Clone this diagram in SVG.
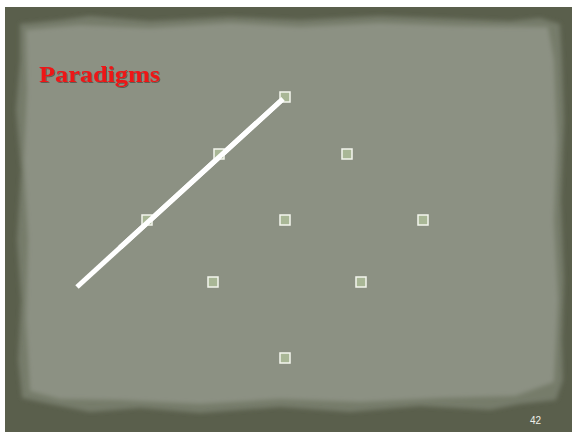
<svg xmlns="http://www.w3.org/2000/svg" width="574" height="432" viewBox="0 0 574 432">
<style>
.pt{fill:#a9b796;stroke:#f4f6ee;stroke-width:1.5}
.title{font-family:"Liberation Serif",serif;font-weight:bold;font-size:24px;fill:#ee1419}
.num{font-family:"Liberation Sans",sans-serif;font-size:10px;fill:#eef0e8}
</style>
<defs>
<filter id="blur" x="-5%" y="-5%" width="110%" height="110%"><feGaussianBlur stdDeviation="2"/></filter>
<filter id="sh"><feDropShadow dx="1" dy="1" stdDeviation="0.6" flood-color="#3a3a30" flood-opacity="0.6"/></filter>
</defs>
<rect width="574" height="432" fill="#ffffff"/>
<rect x="5" y="7" width="567" height="425" fill="#5a5f4c"/>
<path d="M20,24 L60,20 L90,16 L150,21 L230,17 L300,20 L380,16 L460,19 L510,21 L540,18 L560,24 L562,60 L564,120 L561,200 L564,280 L562,340 L563,380 L556,400 L520,404 L490,410 L420,406 L350,412 L280,407 L200,413 L140,408 L90,412 L50,404 L22,398 L18,360 L21,300 L17,240 L21,170 L16,110 L20,60 Z" fill="#767b6b" filter="url(#blur)"/>
<path d="M26,30 L80,25 L150,28 L230,23 L300,27 L380,23 L460,26 L548,27 L554,60 L557,140 L554,220 L558,300 L554,382 L515,396 L440,398 L360,402 L280,399 L200,404 L120,400 L60,399 L30,391 L26,320 L28,240 L24,160 L27,90 Z" fill="#8c9183" filter="url(#blur)"/>
<text class="title" x="39" y="82" textLength="121" lengthAdjust="spacingAndGlyphs" filter="url(#sh)">Paradigms</text>
<g id="connectors">
<line x1="77" y1="287" x2="285" y2="97" stroke="#ffffff" stroke-width="5"/>
</g>
<g id="n1"><rect class="pt" x="280" y="92" width="10" height="10"/></g>
<g id="n2"><rect class="pt" x="214" y="149" width="10" height="10"/></g>
<g id="n3"><rect class="pt" x="342" y="149" width="10" height="10"/></g>
<g id="n4"><rect class="pt" x="142" y="215" width="10" height="10"/></g>
<g id="n5"><rect class="pt" x="280" y="215" width="10" height="10"/></g>
<g id="n6"><rect class="pt" x="418" y="215" width="10" height="10"/></g>
<g id="n7"><rect class="pt" x="208" y="277" width="10" height="10"/></g>
<g id="n8"><rect class="pt" x="356" y="277" width="10" height="10"/></g>
<g id="n9"><rect class="pt" x="280" y="353" width="10" height="10"/></g>
<g id="connectors-over">
<line x1="120" y1="247.7" x2="283" y2="98.8" stroke="#ffffff" stroke-width="5"/>
</g>
<text class="num" x="530" y="424">42</text>
</svg>
